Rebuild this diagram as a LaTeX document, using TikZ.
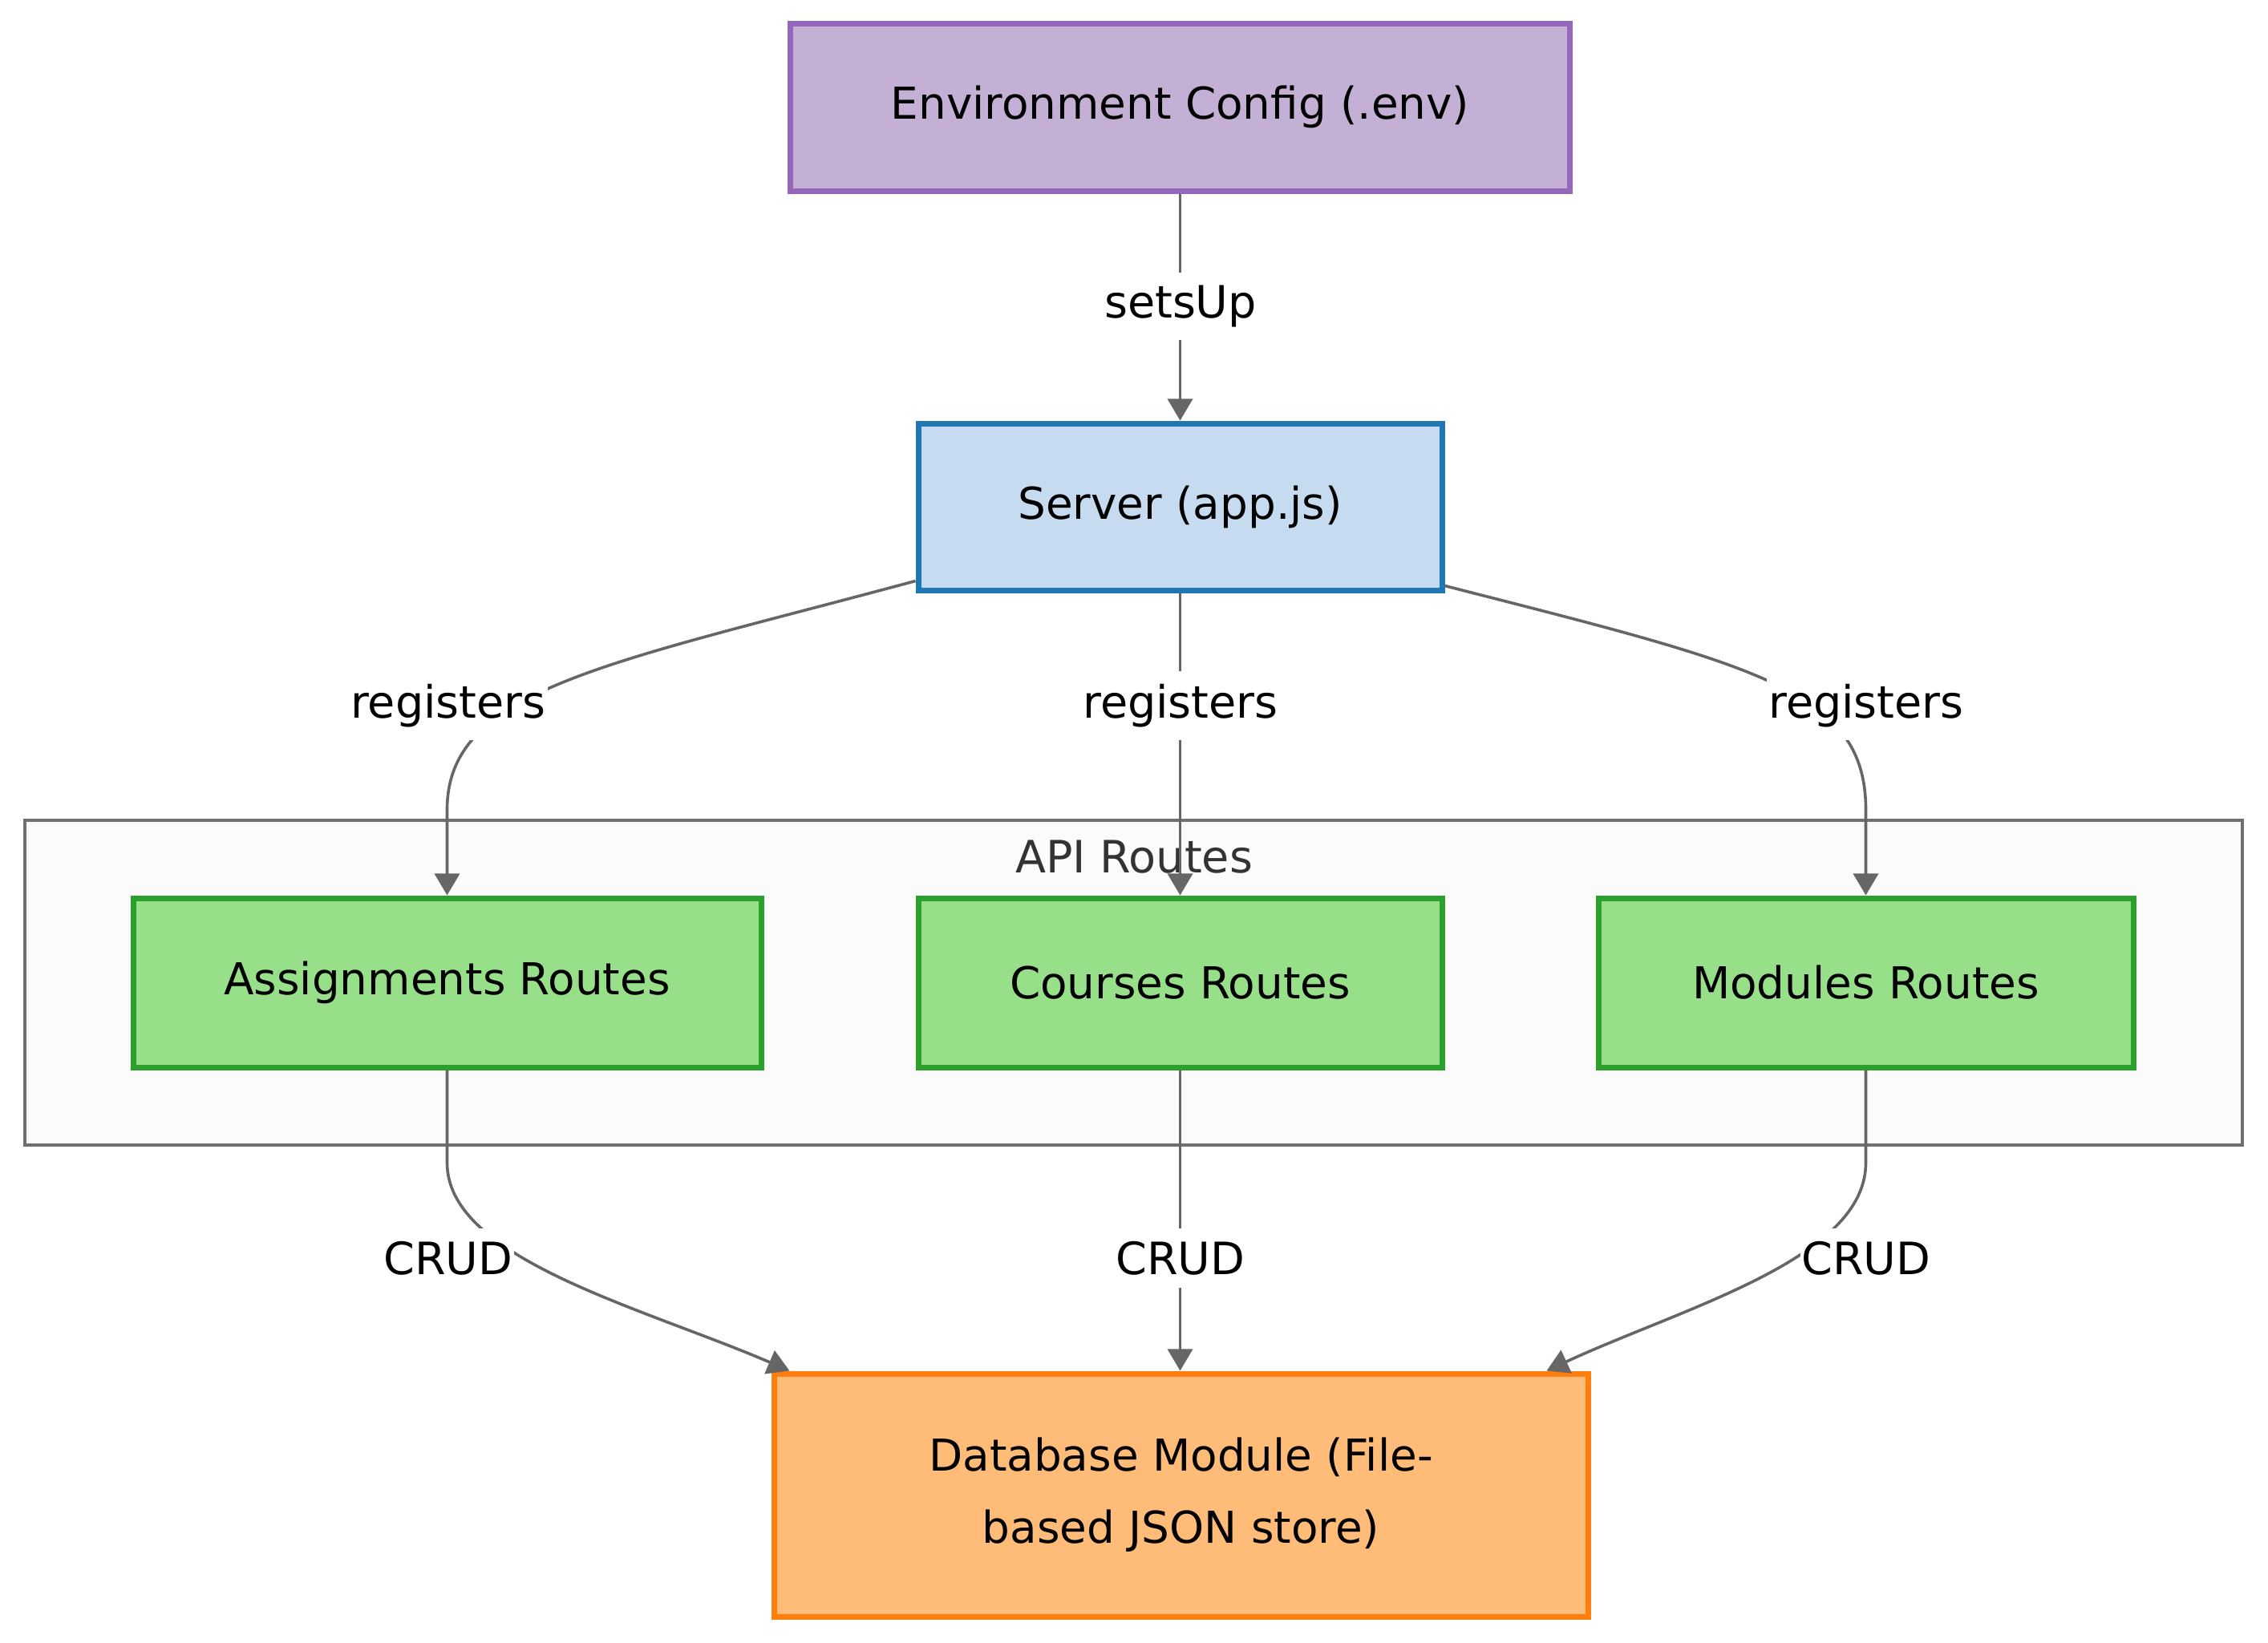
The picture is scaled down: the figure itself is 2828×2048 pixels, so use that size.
\documentclass[tikz,border=0pt]{standalone}
\usepackage{fontspec}
\setmainfont{DejaVu Sans}
\usetikzlibrary{arrows.meta}
\definecolor{envfill}{HTML}{C5B0D5}
\definecolor{envline}{HTML}{9467BD}
\definecolor{srvfill}{HTML}{C6DBEF}
\definecolor{srvline}{HTML}{1F77B4}
\definecolor{rtfill}{HTML}{98DF8A}
\definecolor{rtline}{HTML}{2CA02C}
\definecolor{dbfill}{HTML}{FFBB78}
\definecolor{dbline}{HTML}{FF7F0E}
\definecolor{edgecol}{HTML}{666666}
\definecolor{clfill}{HTML}{FBFBFB}
\definecolor{clline}{HTML}{707070}
\definecolor{cltext}{HTML}{333333}
\tikzset{
  box/.style={draw, line width=1.75pt, inner sep=0pt, align=center,
    font=\fontsize{13.7pt}{22.5pt}\selectfont},
  edge/.style={draw=edgecol, line width=0.9pt,
    -{Triangle[length=6.8pt,width=7.8pt]}, edgecol},
  elabel/.style={fill=white, inner xsep=0.5pt, inner ysep=4pt,
    font=\fontsize{13.9pt}{16pt}\selectfont, text=black},
}
\begin{document}
\begin{tikzpicture}[x=0.25pt,y=-0.25pt]
\useasboundingbox (0,0) rectangle (2828,2048);
% cluster
\node[draw=clline, fill=clfill, line width=1pt, minimum width=691.25pt, minimum height=101.25pt, inner sep=0pt] (cluster) at (1413.5,1225.5) {};
\node[text=cltext, font=\fontsize{13.9pt}{16pt}\selectfont, anchor=base] (cltitle) at (1414,1088) {API Routes};
% nodes
\node[box, fill=envfill, draw=envline, minimum width=243pt, minimum height=52.25pt] (env) at (1471.5,133.5) {Environment Config (.env)};
\node[box, fill=srvfill, draw=srvline, minimum width=163.25pt, minimum height=52pt] (srv) at (1471.5,632) {Server (app.js)};
\node[box, fill=rtfill, draw=rtline, minimum width=195.75pt, minimum height=52.75pt] (asg) at (557.5,1225.5) {Assignments Routes};
\node[box, fill=rtfill, draw=rtline, minimum width=163.25pt, minimum height=52.75pt] (crs) at (1471.5,1225.5) {Courses Routes};
\node[box, fill=rtfill, draw=rtline, minimum width=166.75pt, minimum height=52.75pt] (mod) at (2326.5,1225.5) {Modules Routes};
\node[box, fill=dbfill, draw=dbline, minimum width=253.75pt, minimum height=75.75pt] (db) at (1472.5,1864.5) {Database Module (File-\\based JSON store)};
% edges
\draw[edge] (env.south) -- (srv.north);
\draw[edge] ([yshift=3.75pt]srv.south west) .. controls (750,830) and (557.5,860) .. (557.5,1010) -- (asg.north);
\draw[edge] (srv.south) -- (crs.north);
\draw[edge] ([yshift=2.25pt]srv.south east) .. controls (2190,830) and (2326.5,860) .. (2326.5,1010) -- (mod.north);
\draw[edge] (asg.south) -- (557.5,1450) .. controls (557.5,1570) and (800,1630) .. ([xshift=5.75pt]db.north west);
\draw[edge] (crs.south) -- (crs.south |- db.north);
\draw[edge] (mod.south) -- (2326.5,1450) .. controls (2326.5,1570) and (2100,1630) .. ([xshift=-13.75pt]db.north east);
% edge labels
\node[elabel] (l0) at (1472,382) {setsUp};
\node[elabel] (l1) at (559,880) {registers};
\node[elabel] (l2) at (1472,880) {registers};
\node[elabel] (l3) at (2327,880) {registers};
\node[elabel] (l4) at (559,1569) {CRUD};
\node[elabel] (l5) at (1472,1569) {CRUD};
\node[elabel] (l6) at (2327,1569) {CRUD};
\end{tikzpicture}
\end{document}
